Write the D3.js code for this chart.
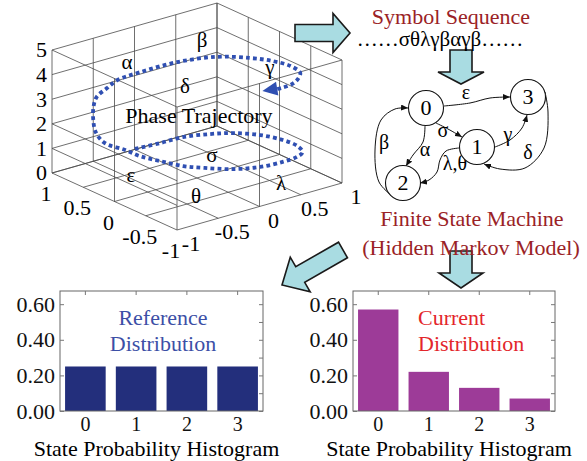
<!DOCTYPE html>
<html>
<head>
<meta charset="utf-8">
<script src="https://cdn.jsdelivr.net/npm/d3@7"></script>
<style>
  body { margin: 0; background: #fff; }
  svg { display: block; font-family: "Liberation Serif", "Times New Roman", serif; }
</style>
</head>
<body>
<svg id="fig" width="587" height="461"></svg>
<script>
// ---- data ----
const zTicks = [0, 1, 2, 3, 4, 5];
const xyTicks = [-1, -0.5, 0, 0.5, 1];

// phase trajectory, in the cube's own units (lower loop, climb, upper loop)
const trajX = [0.48, 0.45, 0.44, 0.34, 0.22, 0.01, -0.24, -0.46, -0.62, -0.69, -0.71, -0.68, -0.56, -0.36, -0.19, 0.06, 0.29,
  0.41, 0.37, 0.34, 0.30, 0.31, 0.35,
  0.37, 0.48, 0.51, 0.50, 0.37, 0.14, -0.07, -0.28, -0.49, -0.61, -0.68, -0.70, -0.69, -0.65];
const trajY = [-0.39, -0.11, 0.16, 0.41, 0.60, 0.77, 0.86, 0.87, 0.81, 0.69, 0.50, 0.25, 0.01, -0.18, -0.31, -0.40, -0.47,
  -0.56, -0.84, -0.97, -1.03, -1.02, -0.95,
  -0.81, -0.60, -0.30, 0.14, 0.52, 0.75, 0.87, 0.92, 0.88, 0.76, 0.64, 0.50, 0.39, 0.30];
const trajZ = [1, 1, 1, 1, 1, 1, 1, 1, 1, 1, 1, 1, 1, 1, 1, 1, 1,
  1.2, 1.8, 2.4, 3, 3.5, 3.8,
  4, 4, 4, 4, 4, 4, 4, 4, 4, 4, 4, 4, 4, 4];

const symbols = ['α', 'β', 'γ', 'δ', 'ε', 'θ', 'σ', 'λ'];
const symbolSequence = '……σθλγβαγβ……';

const states = ['0', '1', '2', '3'];
const transitions = [
  { from: '0', to: '3', label: 'ε' },
  { from: '0', to: '1', label: 'σ' },
  { from: '1', to: '3', label: 'γ' },
  { from: '3', to: '1', label: 'δ' },
  { from: '0', to: '2', label: 'α' },
  { from: '1', to: '2', label: 'λ,θ' },
  { from: '2', to: '0', label: 'β' }
];

const stateLabels = ['0', '1', '2', '3'];
const referenceProb = [0.25, 0.25, 0.25, 0.25];
const currentProb = [0.57, 0.22, 0.13, 0.07];
const probTicks = [0, 0.2, 0.4, 0.6];
const probMinor = [0, 0.1, 0.2, 0.3, 0.4, 0.5, 0.6];

// ---- layout ----
const svg = d3.select('#fig');
const darkRed = '#9a2226';
const arrowFill = '#a9dce2';
const trajColor = '#2f4fb2';

// 3D box projection
const origin = [177, 230], vL = [-125, -57], vR = [165, -47];
const fx = d3.scaleLinear().domain([-1, 1]).range([0, 1]);
const fy = d3.scaleLinear().domain([-1, 1]).range([0, 1]);
const fz = d3.scaleLinear().domain([0, 5]).range([0, -123]);
function proj(x, y, z) {
  const a = fx(x), b = fy(y);
  return [origin[0] + a * vL[0] + b * vR[0], origin[1] + a * vL[1] + b * vR[1] + fz(z)];
}

const box = svg.append('g');
const segs = [];
xyTicks.forEach(t => {
  segs.push([[t, -1, 0], [t, 1, 0]]);
  segs.push([[-1, t, 0], [1, t, 0]]);
  segs.push([[1, t, 0], [1, t, 5]]);
  segs.push([[t, 1, 0], [t, 1, 5]]);
});
zTicks.forEach(z => {
  segs.push([[1, -1, z], [1, 1, z]]);
  segs.push([[1, 1, z], [-1, 1, z]]);
});
// front edges and middle lines of the open faces
segs.push([[1, -1, 5], [-1, -1, 5]], [[-1, -1, 5], [-1, 1, 5]], [[-1, -1, 0], [-1, -1, 5]]);
segs.push([[0, -1, 0], [0, -1, 5]], [[-1, 0, 0], [-1, 0, 5]]);
segs.push([[1, -1, 2], [-1, -1, 2]], [[1, -1, 1], [-1, -1, 1]]);

box.selectAll('line.grid')
  .data(segs)
  .enter().append('line')
  .attr('x1', d => proj(...d[0])[0])
  .attr('y1', d => proj(...d[0])[1])
  .attr('x2', d => proj(...d[1])[0])
  .attr('y2', d => proj(...d[1])[1])
  .attr('stroke', '#4a4a4a')
  .attr('stroke-width', 0.8);

// tick labels of the cube
box.selectAll('text.z')
  .data(zTicks)
  .enter().append('text')
  .attr('x', d => proj(1, -1, d)[0] - 5)
  .attr('y', d => proj(1, -1, d)[1])
  .attr('dy', '0.34em')
  .attr('text-anchor', 'end')
  .attr('font-size', 22)
  .text(d => d);

box.selectAll('text.xl')
  .data(xyTicks.slice().reverse())
  .enter().append('text')
  .attr('x', d => proj(d, -1, 0)[0] - 6)
  .attr('y', d => proj(d, -1, 0)[1] + 28)
  .attr('text-anchor', 'middle')
  .attr('font-size', 22)
  .text(d => d);

box.selectAll('text.yl')
  .data(xyTicks)
  .enter().append('text')
  .attr('x', d => proj(-1, d, 0)[0] + 14)
  .attr('y', d => proj(-1, d, 0)[1] + 21)
  .attr('text-anchor', 'middle')
  .attr('font-size', 22)
  .text(d => d);

// trajectory
const pts = trajX.map((x, i) => proj(x, trajY[i], trajZ[i]));
const line = d3.line().curve(d3.curveCatmullRom);
box.append('path')
  .attr('d', line(pts.slice(0, -1)))
  .attr('fill', 'none')
  .attr('stroke', trajColor)
  .attr('stroke-width', 3.8)
  .attr('stroke-dasharray', '3.8,3.2');

const tip = pts[pts.length - 1], prev = pts[pts.length - 3];
const ang = Math.atan2(tip[1] - prev[1], tip[0] - prev[0]);
const hl = 15, hw = 7;
const bx = tip[0] - hl * Math.cos(ang), by = tip[1] - hl * Math.sin(ang);
box.append('path')
  .attr('d', `M${tip[0]},${tip[1]}L${bx - hw * Math.sin(ang)},${by + hw * Math.cos(ang)}L${bx + hw * Math.sin(ang)},${by - hw * Math.cos(ang)}Z`)
  .attr('fill', trajColor);

// symbols in the phase space
const symbolPos = [[127, 62], [202, 40], [270, 67], [185, 86], [131, 175], [196, 196], [212, 155], [281, 183]];
box.selectAll('text.sym')
  .data(symbols)
  .enter().append('text')
  .attr('x', (d, i) => symbolPos[i][0])
  .attr('y', (d, i) => symbolPos[i][1])
  .attr('dy', '0.32em')
  .attr('text-anchor', 'middle')
  .attr('font-size', 21)
  .text(d => d);

box.append('text')
  .attr('x', 199).attr('y', 123)
  .attr('text-anchor', 'middle')
  .attr('font-size', 22)
  .text('Phase Trajectory');

// block arrows
function blockArrow(tail, tipP, bw, hw2, hlen) {
  const a = Math.atan2(tipP[1] - tail[1], tipP[0] - tail[0]);
  const len = Math.hypot(tipP[0] - tail[0], tipP[1] - tail[1]);
  const local = [[0, -bw], [len - hlen, -bw], [len - hlen, -hw2], [len, 0], [len - hlen, hw2], [len - hlen, bw], [0, bw]];
  const c = Math.cos(a), s = Math.sin(a);
  return 'M' + local.map(p => [tail[0] + p[0] * c - p[1] * s, tail[1] + p[0] * s + p[1] * c].join(',')).join('L') + 'Z';
}
const arrows = [
  { tail: [295, 33], tip: [350, 33], bw: 8.5, hw: 19.5, hl: 17 },
  { tail: [461, 50], tip: [461, 84], bw: 11, hw: 23, hl: 12 },
  { tail: [461, 251], tip: [461, 288], bw: 11, hw: 22, hl: 15 },
  { tail: [343, 250], tip: [282, 285], bw: 9, hw: 20, hl: 21 }
];
svg.selectAll('path.barrow')
  .data(arrows)
  .enter().append('path')
  .attr('d', d => blockArrow(d.tail, d.tip, d.bw, d.hw, d.hl))
  .attr('fill', arrowFill)
  .attr('stroke', '#1a1a1a')
  .attr('stroke-width', 1.6)
  .attr('stroke-linejoin', 'miter');

// symbol sequence
svg.append('text').attr('x', 451).attr('y', 24).attr('text-anchor', 'middle')
  .attr('font-size', 22).attr('fill', darkRed).text('Symbol Sequence');
svg.append('text').attr('x', 440).attr('y', 46).attr('text-anchor', 'middle')
  .attr('font-size', 21).text(symbolSequence);

// finite state machine
const nodePos = { '0': [426, 108], '1': [477, 147], '2': [403, 183], '3': [528, 97] };
const edgePath = {
  '0-3': [[444, 106], [470, 103], [490, 98], [510, 97]],
  '0-1': [[436, 123], [448, 129], [462, 137]],
  '1-3': [[495, 147], [510, 140], [522, 128], [527, 115]],
  '3-1': [[545, 92], [548, 112], [544, 148], [525, 168], [500, 169], [484, 164]],
  '0-2': [[425, 126], [423, 142], [413, 155], [406, 166]],
  '1-2': [[459, 148], [446, 151], [440, 160], [437, 172], [429, 180], [420, 183]],
  '2-0': [[391, 195], [379, 182], [375, 150], [381, 120], [395, 109], [408, 108]]
};
const labelPos = {
  '0-3': [466, 93], '0-1': [443, 131], '1-3': [508, 135], '3-1': [528, 153],
  '0-2': [425, 150], '1-2': [455, 164], '2-0': [384, 143]
};

svg.append('defs').append('marker')
  .attr('id', 'ah').attr('markerUnits', 'userSpaceOnUse')
  .attr('markerWidth', 8).attr('markerHeight', 6)
  .attr('refX', 7).attr('refY', 3).attr('orient', 'auto')
  .append('path').attr('d', 'M0,0L7,3L0,6Z').attr('fill', '#111');

const fsm = svg.append('g');
const curve = d3.line().curve(d3.curveCatmullRom);
fsm.selectAll('path.edge')
  .data(transitions)
  .enter().append('path')
  .attr('d', d => curve(edgePath[d.from + '-' + d.to]))
  .attr('fill', 'none')
  .attr('stroke', '#111')
  .attr('stroke-width', 1)
  .attr('marker-end', 'url(#ah)');

fsm.selectAll('text.elab')
  .data(transitions)
  .enter().append('text')
  .attr('x', d => labelPos[d.from + '-' + d.to][0])
  .attr('y', d => labelPos[d.from + '-' + d.to][1])
  .attr('dy', '0.32em')
  .attr('text-anchor', 'middle')
  .attr('font-size', 20)
  .text(d => d.label);

const nodes = fsm.selectAll('g.node')
  .data(states)
  .enter().append('g')
  .attr('transform', d => `translate(${nodePos[d][0]},${nodePos[d][1]})`);
nodes.append('circle').attr('r', 17.5).attr('fill', '#fff').attr('stroke', '#111').attr('stroke-width', 1.1);
nodes.append('text').attr('text-anchor', 'middle').attr('dy', '0.34em').attr('font-size', 22).text(d => d);

svg.append('text').attr('x', 472).attr('y', 226).attr('text-anchor', 'middle')
  .attr('font-size', 22).attr('fill', darkRed).text('Finite State Machine');
svg.append('text').attr('x', 471).attr('y', 255).attr('text-anchor', 'middle')
  .attr('font-size', 22).attr('fill', darkRed).text('(Hidden Markov Model)');

// histograms
function histogram(left, right, values, color, labelLines, labelX, labelAnchor, labelColor) {
  const top = 291, bottom = 411;
  const g = svg.append('g');
  const x = d3.scaleBand().domain(stateLabels).range([left, right]).paddingInner(0.2).paddingOuter(0.1);
  const y = d3.scaleLinear().domain([0, 0.674]).range([bottom, top]);

  g.selectAll('rect.bar')
    .data(values)
    .enter().append('rect')
    .attr('x', (d, i) => x(stateLabels[i]))
    .attr('width', x.bandwidth())
    .attr('y', d => y(d))
    .attr('height', d => bottom - y(d))
    .attr('fill', color);

  g.append('rect')
    .attr('x', left).attr('y', top).attr('width', right - left).attr('height', bottom - top)
    .attr('fill', 'none').attr('stroke', '#666').attr('stroke-width', 1);

  const yl = g.append('g').attr('transform', `translate(${left},0)`)
    .call(d3.axisLeft(y).tickValues(probTicks).tickFormat(d3.format('.2f')).tickSize(-4).tickPadding(5));
  const yr = g.append('g').attr('transform', `translate(${right},0)`)
    .call(d3.axisRight(y).tickValues(probMinor).tickFormat('').tickSize(-4));
  const xt = g.append('g').attr('transform', `translate(0,${top})`)
    .call(d3.axisTop(x).tickFormat('').tickSize(-4));
  const xb = g.append('g').attr('transform', `translate(0,${bottom})`)
    .call(d3.axisBottom(x).tickSize(0).tickPadding(6));
  [yl, yr, xt, xb].forEach(a => {
    a.select('.domain').remove();
    a.selectAll('line').attr('stroke', '#777');
    a.selectAll('text').attr('font-family', '"Liberation Serif", serif').attr('font-size', 22).attr('fill', '#111');
  });
  xb.selectAll('text').attr('font-size', 20);

  g.append('text').attr('x', (left + right) / 2 - 5).attr('y', 456).attr('text-anchor', 'middle')
    .attr('font-size', 22).text('State Probability Histogram');

  g.selectAll('text.lab')
    .data(labelLines)
    .enter().append('text')
    .attr('x', labelX)
    .attr('y', (d, i) => 325 + i * 26)
    .attr('text-anchor', labelAnchor)
    .attr('font-size', 22)
    .attr('fill', labelColor)
    .text(d => d);
}

histogram(60, 263, referenceProb, '#232f7c', ['Reference', 'Distribution'], 163, 'middle', '#3c4fa6');
histogram(353, 555, currentProb, '#9d3b98', ['Current', 'Distribution'], 418, 'start', '#e3262b');
</script>
</body>
</html>
